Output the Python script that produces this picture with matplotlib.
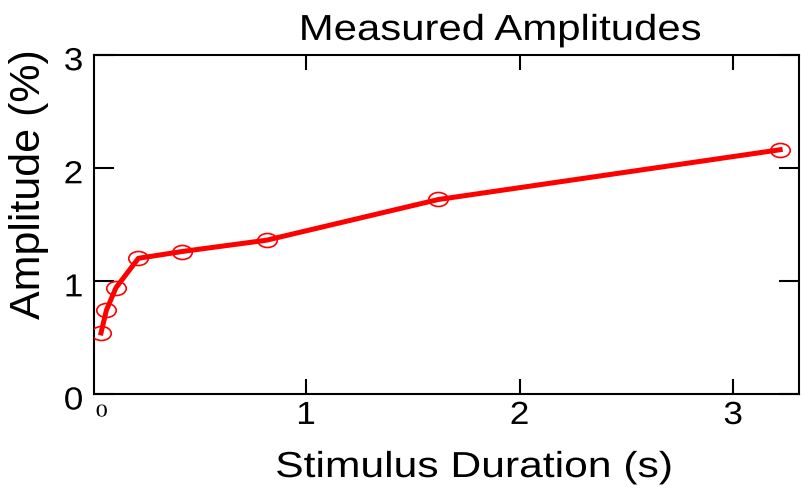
import matplotlib.pyplot as plt
from matplotlib.path import Path
from matplotlib.transforms import Affine2D, ScaledTranslation
from matplotlib.patheffects import AbstractPathEffect

# stimulus duration (s) and measured amplitude (%)
duration = [0.04, 0.065, 0.11, 0.215, 0.42, 0.815, 1.62, 3.22]
amplitude = [0.54, 0.74, 0.94, 1.20, 1.26, 1.36, 1.72, 2.16]

xticks = [1, 2, 3]
yticks = [0, 1, 2, 3]


class Widen(AbstractPathEffect):
    # draws text wider than the font, pinned at its middle or one edge
    def __init__(self, sx, anchor='center'):
        super().__init__()
        self.sx = sx
        self.anchor = anchor

    def draw_path(self, renderer, gc, tpath, affine, rgbFace=None):
        ext = tpath.get_extents(affine)
        if self.anchor == 'left':
            x0 = ext.x0
        elif self.anchor == 'right':
            x0 = ext.x1
        else:
            x0 = (ext.x0 + ext.x1) / 2
        stretch = Affine2D().translate(-x0, 0).scale(self.sx, 1).translate(x0, 0)
        renderer.draw_path(gc, tpath, affine + stretch, rgbFace)


plt.rcParams['font.family'] = 'Liberation Sans'

# flattened open circle for the markers
ellipse = Path.unit_circle().transformed(Affine2D().scale(1, 0.72))

fig = plt.figure(figsize=(8.01, 4.93), dpi=100)
ax = fig.add_axes([0.1177, 0.2008, 0.88, 0.6882])

ax.plot(duration, amplitude, color='red', lw=3.6, zorder=2)
ax.plot(duration, amplitude, ls='none', marker=ellipse, ms=14,
        mfc='none', mec='red', mew=1.2, zorder=3)

ax.set_xlim(0.0084, 3.309)
ax.set_ylim(0, 3)
ax.set_xticks(xticks)
ax.set_yticks(yticks)

for s in ax.spines.values():
    s.set_linewidth(1.5)

ax.tick_params(direction='in', top=True, right=True, width=1.5,
               labelsize=23, colors='black')
ax.tick_params(axis='x', length=10.5, pad=5)
ax.tick_params(axis='y', length=14.5, pad=8)

for lab in ax.get_xticklabels():
    lab.set_path_effects([Widen(1.1)])
# y labels sit a little below their ticks
drop = ScaledTranslation(0, -0.04, fig.dpi_scale_trans)
for lab in ax.get_yticklabels():
    lab.set_path_effects([Widen(1.1, 'right')])
    lab.set_va('center_baseline')
    lab.set_transform(lab.get_transform() + drop)

# the origin gets its own small serif label
ax.text(0.043, -0.028, '0', transform=ax.get_xaxis_transform(),
        ha='center', va='top', family='Liberation Serif', fontsize=13,
        path_effects=[Widen(1.35)])

ax.set_xlabel('Stimulus Duration (s)', fontsize=26, va='baseline',
              path_effects=[Widen(1.18)])
ax.xaxis.set_label_coords(0.5387, -0.2446)
ax.set_ylabel('Amplitude (%)', fontsize=31, va='center')
ax.yaxis.set_label_coords(-0.0926, 0.620)

fig.text(500 / 801, 0.919, 'Measured Amplitudes', ha='center', va='baseline',
         fontsize=26, path_effects=[Widen(1.16)])

plt.savefig('out.png', dpi=100)
